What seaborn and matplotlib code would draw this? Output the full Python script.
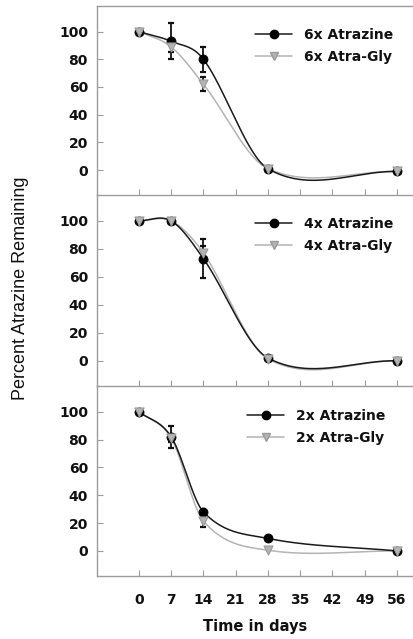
import numpy as np
import pandas as pd
import matplotlib
matplotlib.use("Agg")
import matplotlib.pyplot as plt
import seaborn as sns
from matplotlib.lines import Line2D

# ---------------- data ----------------
days = [0, 7, 14, 28, 56]
xticks = [0, 7, 14, 21, 28, 35, 42, 49, 56]
yticks = [0, 20, 40, 60, 80, 100]
doses = ["6x", "4x", "2x"]

atrazine_6x = [100, 93, 80, 1, -1]
atrazine_6x_err = [0, 13, 9, 0, 0]
atragly_6x = [100, 89, 62, 1, -1]
atragly_6x_err = [0, 4, 5, 0, 0]

atrazine_4x = [100, 100, 73, 2, 0]
atrazine_4x_err = [0, 0, 14, 0, 0]
atragly_4x = [100, 100, 77, 1.5, 0]
atragly_4x_err = [0, 0, 5, 0, 0]

atrazine_2x = [100, 82, 28, 9, 0]
atrazine_2x_err = [0, 8, 2, 0, 0]
atragly_2x = [100, 81, 21.5, 0.5, 0]
atragly_2x_err = [0, 3, 4, 0, 0]

panels = [
    ("6x", atrazine_6x, atrazine_6x_err, atragly_6x, atragly_6x_err),
    ("4x", atrazine_4x, atrazine_4x_err, atragly_4x, atragly_4x_err),
    ("2x", atrazine_2x, atrazine_2x_err, atragly_2x, atragly_2x_err),
]

BLACK = "#000000"
GRAY = "#b4b4b4"
GRAY_EDGE = "#9a9a9a"
SPINE = "#9c9c9c"


def smooth_curve(x, y, n=60):
    """Catmull-Rom style cubic Hermite curve through the points."""
    x = np.asarray(x, float)
    y = np.asarray(y, float)
    m = np.zeros_like(y)
    m[0] = (y[1] - y[0]) / (x[1] - x[0])
    m[-1] = (y[-1] - y[-2]) / (x[-1] - x[-2])
    for i in range(1, len(x) - 1):
        m[i] = (y[i + 1] - y[i - 1]) / (x[i + 1] - x[i - 1])
    xs, ys = [], []
    for i in range(len(x) - 1):
        h = x[i + 1] - x[i]
        t = np.linspace(0, 1, n, endpoint=(i == len(x) - 2))
        h00 = 2 * t**3 - 3 * t**2 + 1
        h10 = t**3 - 2 * t**2 + t
        h01 = -2 * t**3 + 3 * t**2
        h11 = t**3 - t**2
        xs.append(x[i] + t * h)
        ys.append(h00 * y[i] + h10 * h * m[i] + h01 * y[i + 1] + h11 * h * m[i + 1])
    return np.concatenate(xs), np.concatenate(ys)


sns.set_theme(style="white")
plt.rcParams["font.family"] = ["DejaVu Sans"]

W, H = 414, 639
fig = plt.figure(figsize=(W / 100, H / 100), dpi=100)
fig.patch.set_facecolor("white")

left_px, right_px = 97, 414
bounds = [(6, 195), (195, 386), (386, 576)]
leg_anchor = [(0.498, 0.884), (0.498, 0.885), (0.473, 0.879)]

for idx, ((top, bot), (dose, a, ae, g, ge)) in enumerate(zip(bounds, panels)):
    ax = fig.add_axes([left_px / W, 1 - bot / H, (right_px - left_px) / W, (bot - top) / H])
    ax.set_facecolor("none")

    # fitted smooth curves
    cx_a, cy_a = smooth_curve(days, a)
    cx_g, cy_g = smooth_curve(days, g)
    curves = pd.DataFrame({
        "day": np.concatenate([cx_a, cx_g]),
        "pct": np.concatenate([cy_a, cy_g]),
        "series": ["Atrazine"] * len(cx_a) + ["Atra-Gly"] * len(cx_g),
    })
    sns.lineplot(data=curves[curves.series == "Atra-Gly"], x="day", y="pct",
                 color=GRAY, linewidth=1.1, ax=ax, legend=False, sort=False, zorder=2)
    sns.lineplot(data=curves[curves.series == "Atrazine"], x="day", y="pct",
                 color="#1a1a1a", linewidth=1.1, ax=ax, legend=False, sort=False, zorder=2)

    # error bars
    da = np.array(days, float)
    for vals, errs in ((a, ae), (g, ge)):
        vals = np.asarray(vals, float)
        errs = np.asarray(errs, float)
        mask = errs > 0
        ax.errorbar(da[mask], vals[mask], yerr=errs[mask], fmt="none",
                    ecolor="#111111", elinewidth=1.3, capsize=2.5, capthick=1.6, zorder=3)

    # markers
    pts_a = pd.DataFrame({"day": days, "pct": a})
    pts_g = pd.DataFrame({"day": days, "pct": g})
    sns.scatterplot(data=pts_a, x="day", y="pct", marker="o", s=42, color=BLACK,
                    edgecolor=BLACK, linewidth=0.6, ax=ax, legend=False, zorder=4)
    sns.scatterplot(data=pts_g, x="day", y="pct", marker="v", s=42, color=GRAY,
                    edgecolor=GRAY_EDGE, linewidth=0.8, ax=ax, legend=False, zorder=5)

    ax.set_xlim(-9.1, 59.7)
    ax.set_ylim(-18, 118.5)
    ax.set_xticks(xticks)
    ax.set_yticks(yticks)
    ax.set_xlabel("")
    ax.set_ylabel("")
    ax.spines["right"].set_visible(False)
    if idx > 0:
        ax.spines["top"].set_visible(False)
    for s in ("left", "bottom", "top"):
        ax.spines[s].set_color(SPINE)
        ax.spines[s].set_linewidth(1.0)
    ax.tick_params(axis="both", which="major", bottom=True, left=True, top=False, right=False,
                   direction="in", length=4, width=0.8, color=SPINE,
                   labelsize=10, labelcolor="#111111")
    ax.tick_params(axis="y", pad=6.5)
    ax.tick_params(axis="x", pad=12)
    for lab in ax.get_yticklabels() + ax.get_xticklabels():
        lab.set_fontweight("bold")
    if idx < 2:
        ax.tick_params(axis="x", labelbottom=False)

    handles = [
        Line2D([], [], color="#1a1a1a", linewidth=1.1, marker="o", markersize=6,
               markerfacecolor=BLACK, markeredgecolor=BLACK),
        Line2D([], [], color=GRAY, linewidth=1.1, marker="v", markersize=6,
               markerfacecolor=GRAY, markeredgecolor=GRAY_EDGE),
    ]
    leg = ax.legend(handles, [f"{dose} Atrazine", f"{dose} Atra-Gly"],
                    loc="upper left", bbox_to_anchor=leg_anchor[idx],
                    frameon=False, borderpad=0, borderaxespad=0,
                    handlelength=2.7, handletextpad=0.85, labelspacing=0.55,
                    prop={"size": 10, "weight": "bold"})
    for t in leg.get_texts():
        t.set_color("#111111")

fig.text((left_px + right_px) / 2 / W, 1 - 626 / H, "Time in days",
         ha="center", va="center", fontsize=10.5, fontweight="bold", color="#111111")
fig.text(21 / W, 1 - 288 / H, "Percent Atrazine Remaining", rotation=90,
         ha="center", va="center", fontsize=13, color="#111111",
         family=["Liberation Sans", "DejaVu Sans"])

fig.savefig("out.png", dpi=100, facecolor="white")
